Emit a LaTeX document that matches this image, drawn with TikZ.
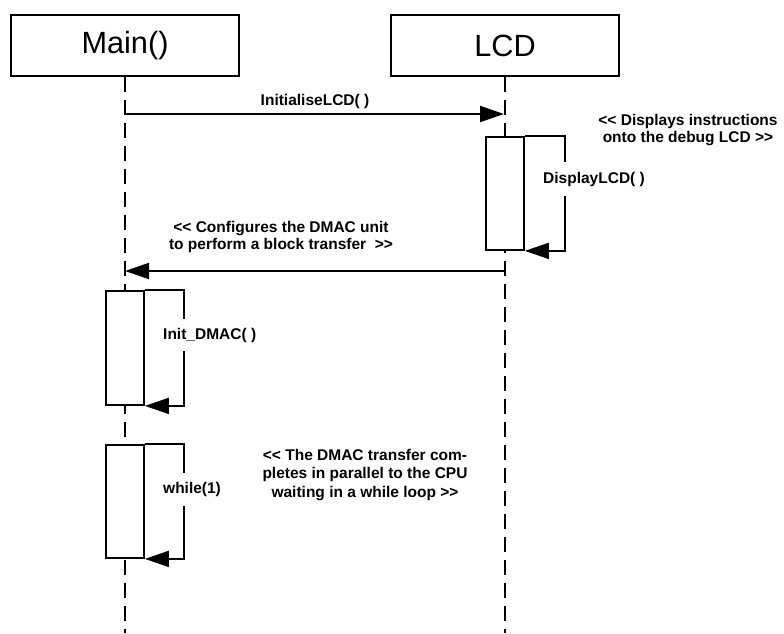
\documentclass[tikz,border=0pt]{standalone}
\usepackage{fontspec}
\setmainfont{Liberation Sans}
\usetikzlibrary{arrows.meta}
\begin{document}
\begin{tikzpicture}[x=1pt,y=-1pt,
  head/.style={draw, line width=1.8pt, minimum width=228pt, minimum height=61pt,
    inner sep=0pt, font=\fontsize{30.7}{34}\selectfont},
  lifeline/.style={line width=2.8pt, dash pattern=on 15pt off 8pt},
  actbox/.style={draw, fill=white, line width=1.8pt, minimum width=38pt, inner sep=0pt},
  msg/.style={line width=1.9pt, -{Triangle[length=24pt,width=16pt]}},
  lbl/.style={font=\fontsize{15.5}{17}\selectfont\bfseries, inner sep=0pt, align=center},
  calllbl/.style={lbl, fill=white, inner xsep=3pt, anchor=west},
]
\useasboundingbox (0,0) rectangle (784,633);

% participants
\node[head] (main) at (125,45.5) {Main()};
\node[head] (lcd)  at (505,45.5) {LCD};

% lifelines
\coordinate (mainEnd) at (125,633);
\coordinate (lcdEnd)  at (505,633);
\draw[lifeline] (main.south) -- (mainEnd);
\draw[lifeline] (lcd.south) -- (lcdEnd);

% InitialiseLCD() call
\coordinate (initFrom) at (125,114);
\coordinate (initTo)   at (504,114);
\draw[msg] (initFrom) -- (initTo);
\node[lbl] (initLbl) at (315,101) {InitialiseLCD( )};

% DisplayLCD() activation and self call
\node[actbox, minimum height=113pt] (dispAct) at (505,193.5) {};
\draw[msg] (dispAct.north east) -- ++(40,0) |- (dispAct.south east);
\node[calllbl, minimum height=34pt] (dispLbl) at (540,179) {DisplayLCD( )};
\node[lbl] (dispNote) at (688,130) {<{}< Displays instructions\\[-0.5pt]onto the debug LCD >{}>};

% return to Main()
\coordinate (retFrom) at (504,271);
\coordinate (retTo)   at (125,271);
\draw[msg] (retFrom) -- (retTo);
\node[lbl] (retLbl) at (281,236.5) {<{}< Configures the DMAC unit\\to perform a block transfer\ \ >{}>};

% Init_DMAC() activation and self call
\node[actbox, minimum height=114pt] (dmacAct) at (125,348) {};
\draw[msg] (dmacAct.north east) -- ++(39,0) |- (dmacAct.south east);
\node[calllbl, minimum height=32pt] (dmacLbl) at (160,335) {Init\_DMAC( )};

% while(1) activation and self call
\node[actbox, minimum height=113pt] (loopAct) at (125,501.5) {};
\draw[msg] (loopAct.north east) -- ++(39,0) |- (loopAct.south east);
\node[calllbl, minimum height=33pt] (loopLbl) at (160,489) {while(1)};
\node[lbl, font=\fontsize{15.5}{18.5}\selectfont\bfseries] (loopNote) at (365,475)
  {<{}< The DMAC transfer com-\\pletes in parallel to the CPU\\waiting in a while loop >{}>};
\end{tikzpicture}
\end{document}
